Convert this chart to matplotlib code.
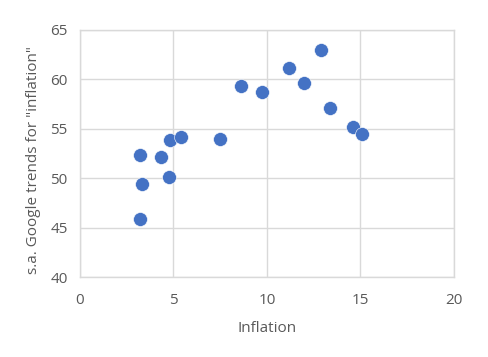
import matplotlib as mpl
import matplotlib.pyplot as plt

mpl.rcParams['font.family'] = ['Open Sans', 'DejaVu Sans']
mpl.rcParams['font.size'] = 11

# data
inflation = [3.22, 3.32, 3.22, 4.31, 4.74, 4.79, 5.42, 7.49, 8.6,
             9.71, 11.2, 12.0, 12.9, 13.4, 14.6, 15.1]
trends = [45.9, 49.4, 52.4, 52.15, 50.1, 53.85, 54.2, 54.0, 59.3,
          58.7, 61.2, 59.6, 62.95, 57.1, 55.2, 54.5]

xticks = [0, 5, 10, 15, 20]
yticks = [40, 45, 50, 55, 60, 65]

text_color = '#595959'
grid_color = '#d9d9d9'
dot_color = '#4472c4'

fig = plt.figure(figsize=(4.88, 3.57), dpi=100)
ax = fig.add_axes([0.164, 0.223, 0.766, 0.693])

ax.scatter(inflation, trends, s=100, color=dot_color, edgecolors='white',
           linewidths=0.4, zorder=3, clip_on=False)

ax.set_xlim(0, 20)
ax.set_ylim(40, 65)
ax.set_xticks(xticks)
ax.set_yticks(yticks)
ax.grid(True, color=grid_color, linewidth=1.0)
ax.set_axisbelow(True)
for side in ax.spines:
    ax.spines[side].set_color(grid_color)
    ax.spines[side].set_linewidth(1.0)
ax.tick_params(length=0, colors=text_color, labelsize=11)
ax.tick_params(axis='x', pad=11)
ax.tick_params(axis='y', pad=9)

ax.set_xlabel('Inflation', color=text_color, fontsize=11)
ax.set_ylabel('s.a. Google trends for "inflation"', color=text_color,
              fontsize=11)
ax.xaxis.set_label_coords(0.5, -0.175)
ax.yaxis.set_label_coords(-0.105, 0.474)

plt.savefig('out.png', dpi=100)
